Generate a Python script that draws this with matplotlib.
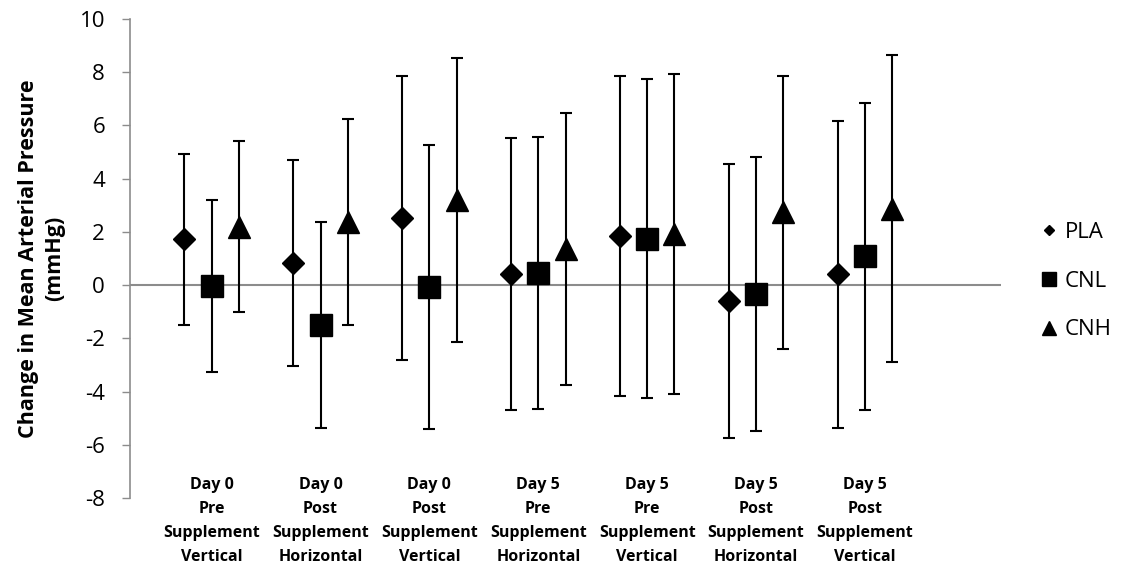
import numpy as np
import matplotlib
matplotlib.use("Agg")
import matplotlib.pyplot as plt
from matplotlib.lines import Line2D
import matplotlib.transforms as mtransforms

plt.rcParams['font.family'] = ['Open Sans', 'DejaVu Sans']
plt.rcParams['axes.unicode_minus'] = False

categories = ["Day 0\nPre\nSupplement\nVertical",
              "Day 0\nPost\nSupplement\nHorizontal",
              "Day 0\nPost\nSupplement\nVertical",
              "Day 5\nPre\nSupplement\nHorizontal",
              "Day 5\nPre\nSupplement\nVertical",
              "Day 5\nPost\nSupplement\nHorizontal",
              "Day 5\nPost\nSupplement\nVertical"]

series_names = ["PLA", "CNL", "CNH"]
pla = [1.72, 0.82, 2.52, 0.43, 1.85, -0.60, 0.40]
cnl = [-0.03, -1.50, -0.06, 0.45, 1.75, -0.34, 1.08]
cnh = [2.20, 2.38, 3.19, 1.35, 1.92, 2.73, 2.87]
# SD per time point (same for each group in the original)
err = [3.22, 3.87, 5.33, 5.11, 6.00, 5.14, 5.76]

fig = plt.figure(figsize=(11.25, 5.68), dpi=100)
ax = fig.add_axes([130/1125, 1 - 498/568, (1001 - 130)/1125, (498 - 19)/568])

x = np.arange(len(categories)) + 0.75
offsets = [-0.25, 0.0, 0.25]
markers = ['D', 's', '^']
msizes = [11.7, 15.8, 16.5]

for vals, off, mk, ms in zip([pla, cnl, cnh], offsets, markers, msizes):
    ax.errorbar(x + off, vals, yerr=err, fmt=mk, color='black', ms=ms,
                ecolor='black', elinewidth=1.5, capsize=4.5, capthick=1.5, zorder=3)

ax.axhline(0, color='#8c8c8c', lw=1.5, zorder=1)

ax.set_xlim(0, 8)
ax.set_ylim(-8, 10)
ax.set_yticks(np.arange(-8, 11, 2))
ax.tick_params(axis='y', direction='out', length=6, width=1, color='#8c8c8c',
               labelsize=16, pad=12)
ax.set_xticks([])
for s in ['top', 'right', 'bottom']:
    ax.spines[s].set_visible(False)
ax.spines['left'].set_color('#8c8c8c')
ax.spines['left'].set_linewidth(1.2)

trans = mtransforms.blended_transform_factory(ax.transData, ax.transData)
for xi, lab in zip(x, categories):
    ax.text(xi, -7.22, lab, transform=trans, ha='center', va='top',
            fontsize=11.5, fontweight='bold', linespacing=1.65, clip_on=False)

ax.set_ylabel("Change in Mean Arterial Pressure\n(mmHg)", fontsize=15.5,
              fontweight='bold', labelpad=10, linespacing=1.35)

handles = [Line2D([], [], marker='D', color='black', ls='none', ms=5.6),
           Line2D([], [], marker='s', color='black', ls='none', ms=10.5),
           Line2D([], [], marker='^', color='black', ls='none', ms=9.5)]
fig.legend(handles, series_names, loc='center left',
           bbox_to_anchor=(1020/1125, 1 - 281/568), frameon=False,
           fontsize=16, handlelength=0.8, handletextpad=0.3, labelspacing=1.25)

fig.savefig("out.png", dpi=100)
